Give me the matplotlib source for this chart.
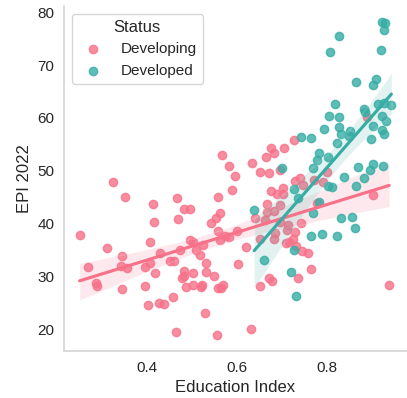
import matplotlib
matplotlib.use("Agg")
import matplotlib.pyplot as plt
import seaborn as sns

# Developing countries: education index vs EPI 2022
developing_x = [0.325, 0.353, 0.415, 0.467, 0.482, 0.496, 0.416, 0.470, 0.558, 0.589,
                0.596, 0.563, 0.555, 0.544, 0.251, 0.313, 0.408, 0.496, 0.503, 0.525,
                0.510, 0.518, 0.475, 0.558, 0.562, 0.575, 0.583, 0.600, 0.270, 0.346,
                0.342, 0.357, 0.396, 0.408, 0.429, 0.453, 0.460, 0.418, 0.287, 0.290,
                0.346, 0.396, 0.482, 0.482, 0.478, 0.502, 0.533, 0.533, 0.549, 0.487,
                0.502, 0.521, 0.524, 0.558, 0.570, 0.565, 0.458, 0.403, 0.427, 0.439,
                0.530, 0.465, 0.556, 0.603, 0.567, 0.584, 0.633, 0.634, 0.651, 0.666,
                0.677, 0.684, 0.672, 0.696, 0.705, 0.727, 0.740, 0.801, 0.890, 0.729,
                0.747, 0.773, 0.792, 0.677, 0.690, 0.702, 0.703, 0.696, 0.667, 0.668,
                0.684, 0.640, 0.663, 0.778, 0.902, 0.742, 0.714, 0.713, 0.685, 0.684,
                0.730, 0.725, 0.716, 0.709, 0.653, 0.620, 0.733, 0.745, 0.758, 0.765,
                0.672, 0.679, 0.737, 0.651, 0.939, 0.696]
developing_y = [47.8, 45.1, 43.7, 44.8, 42.7, 42.7, 40.4, 40.8, 45.1, 46.3,
                49.1, 42.0, 41.0, 40.2, 37.8, 35.5, 36.6, 37.0, 36.5, 36.0,
                35.1, 34.1, 35.1, 38.6, 37.0, 37.7, 37.5, 38.6, 31.9, 33.9,
                32.0, 31.7, 31.9, 32.6, 34.5, 32.9, 32.9, 30.7, 28.7, 28.2,
                27.6, 28.3, 31.0, 30.2, 29.7, 30.7, 32.5, 30.9, 30.2, 28.1,
                28.5, 28.1, 28.5, 27.8, 28.5, 27.9, 26.2, 24.6, 25.1, 24.9,
                23.2, 19.5, 18.9, 32.3, 53.0, 51.0, 20.1, 51.4, 49.8, 52.6,
                54.3, 53.4, 49.6, 50.1, 54.4, 55.8, 48.6, 49.8, 60.2, 48.0,
                47.3, 48.2, 47.8, 46.1, 45.7, 46.7, 45.7, 43.5, 43.7, 42.3,
                42.4, 41.0, 40.7, 44.0, 45.4, 40.1, 39.7, 38.8, 38.3, 37.2,
                38.4, 37.2, 36.6, 36.3, 37.2, 35.6, 35.8, 34.8, 34.5, 31.5,
                29.8, 29.1, 29.7, 28.3, 28.5, 40.4]

# Developed countries
developed_x = [0.742, 0.765, 0.701, 0.770, 0.779, 0.784, 0.803, 0.794, 0.805, 0.818,
               0.827, 0.827, 0.832, 0.822, 0.853, 0.850, 0.807, 0.827, 0.866, 0.902,
               0.910, 0.884, 0.886, 0.915, 0.927, 0.944, 0.904, 0.898, 0.924, 0.932,
               0.922, 0.927, 0.920, 0.922, 0.930, 0.927, 0.870, 0.902, 0.896, 0.925,
               0.839, 0.884, 0.727, 0.736, 0.639, 0.784, 0.770, 0.804, 0.812, 0.866,
               0.833, 0.856, 0.863, 0.824, 0.790, 0.765, 0.727, 0.661, 0.720, 0.733]
developed_y = [56.4, 56.2, 50.5, 50.5, 52.0, 53.4, 52.7, 57.9, 60.3, 62.7,
               60.1, 58.3, 56.9, 55.2, 57.5, 56.6, 72.5, 75.5, 66.8, 66.2,
               67.4, 61.6, 61.2, 62.7, 62.9, 62.5, 58.5, 56.1, 60.4, 59.4,
               57.7, 56.9, 72.9, 78.2, 77.9, 76.7, 50.8, 51.2, 50.1, 51.0,
               48.8, 48.6, 46.5, 44.9, 42.5, 44.2, 42.1, 47.1, 46.9, 47.1,
               41.0, 41.3, 39.2, 37.6, 38.0, 37.6, 35.1, 33.1, 30.9, 26.4]

groups = ["Developing", "Developed"]

sns.set_style("white")
plt.rcParams['font.family'] = ['Liberation Sans', 'DejaVu Sans']

colors = sns.color_palette("husl", 2)

fig = plt.figure(figsize=(4.07, 3.98), dpi=100)
ax = fig.add_axes([64 / 407, 47 / 398, 343 / 407, 345 / 398])

sns.regplot(x=developing_x, y=developing_y, color=colors[0], ax=ax,
            label=groups[0], seed=0, scatter_kws={"s": 36})
sns.regplot(x=developed_x, y=developed_y, color=colors[1], ax=ax,
            label=groups[1], seed=0, scatter_kws={"s": 36})

ax.set_xticks([0.4, 0.6, 0.8])
ax.set_yticks([20, 30, 40, 50, 60, 70, 80])
ax.tick_params(labelsize=11, colors="#262626")
ax.set_xlabel("Education Index", fontsize=12, color="#262626")
ax.set_ylabel("EPI 2022", fontsize=12, color="#262626")
sns.despine(ax=ax)
for side in ["left", "bottom"]:
    ax.spines[side].set_color("#d6d6d6")
    ax.spines[side].set_linewidth(1.25)

leg = ax.legend(title="Status", loc="upper left", fontsize=11, title_fontsize=12)

fig.savefig("out.png", dpi=100)
